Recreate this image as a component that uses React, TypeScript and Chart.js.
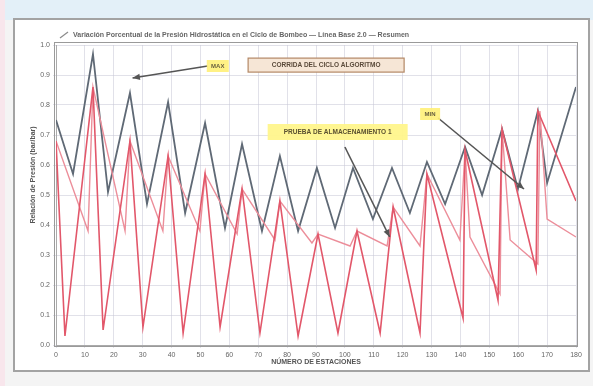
import React, { useEffect, useRef } from "react";
import { Chart, registerables } from "chart.js";

Chart.register(...registerables);

// ---- data ----
const xTickStart = 0;
const xTickEnd = 180;
const xTickStep = 10;
const yTickStart = 0;
const yTickEnd = 1;
const yTickStep = 0.1;

const greyX = [0, 5.9, 12.8, 18.0, 25.6, 31.5, 38.8, 44.7, 51.6, 58.5, 64.4, 71.3, 77.5, 83.8, 90.3, 96.6, 102.8, 109.7, 116.3, 122.5, 128.4, 134.7, 141.6, 147.5, 154.4, 159.9, 166.8, 170.0, 180];
const greyY = [0.75, 0.57, 0.97, 0.51, 0.84, 0.47, 0.81, 0.44, 0.74, 0.39, 0.67, 0.38, 0.63, 0.38, 0.59, 0.39, 0.59, 0.42, 0.59, 0.44, 0.61, 0.47, 0.66, 0.5, 0.72, 0.52, 0.78, 0.54, 0.86];

const redX = [0, 3.1, 12.8, 16.3, 25.6, 30.1, 38.8, 44.0, 51.6, 56.8, 64.4, 70.6, 77.5, 83.8, 90.7, 97.6, 104.2, 112.2, 116.7, 126.0, 128.4, 140.9, 141.6, 153.0, 154.4, 166.2, 166.8, 180];
const redY = [0.68, 0.03, 0.86, 0.05, 0.68, 0.06, 0.63, 0.04, 0.57, 0.06, 0.52, 0.04, 0.48, 0.03, 0.37, 0.04, 0.38, 0.04, 0.46, 0.04, 0.57, 0.09, 0.65, 0.15, 0.72, 0.25, 0.78, 0.48];

const pinkX = [0, 11.1, 12.8, 23.9, 25.6, 37.0, 38.8, 49.8, 51.6, 62.7, 64.4, 75.8, 77.5, 88.6, 90.7, 101.8, 104.2, 114.6, 116.7, 126.0, 128.4, 139.8, 141.6, 143.3, 153.7, 154.4, 157.2, 166.8, 167.5, 170.0, 180];
const pinkY = [0.68, 0.38, 0.86, 0.38, 0.68, 0.38, 0.63, 0.38, 0.57, 0.37, 0.52, 0.35, 0.48, 0.34, 0.37, 0.33, 0.38, 0.33, 0.46, 0.33, 0.57, 0.35, 0.65, 0.36, 0.17, 0.72, 0.35, 0.27, 0.78, 0.42, 0.36];

const chartTitle = "Variación Porcentual de la Presión Hidrostática en el Ciclo de Bombeo — Línea Base 2.0 — Resumen";
const xTitle = "NÚMERO DE ESTACIONES";
const yTitle = "Relación de Presión (bar/bar)";
const labelMax = "MAX";
const labelBox = "CORRIDA DEL CICLO ALGORITMO";
const labelTest = "PRUEBA DE ALMACENAMIENTO 1";
const labelMin = "MIN";

const FONT = "'Liberation Sans', Arial, sans-serif";

function pts(xs: number[], ys: number[]) {
  return xs.map((x, i) => ({ x, y: ys[i] }));
}

function arrow(ctx: CanvasRenderingContext2D, x1: number, y1: number, x2: number, y2: number, color: string) {
  ctx.strokeStyle = color;
  ctx.fillStyle = color;
  ctx.lineWidth = 1.6;
  ctx.beginPath();
  ctx.moveTo(x1, y1);
  ctx.lineTo(x2, y2);
  ctx.stroke();
  const a = Math.atan2(y2 - y1, x2 - x1);
  const L = 8;
  ctx.beginPath();
  ctx.moveTo(x2, y2);
  ctx.lineTo(x2 - L * Math.cos(a - 0.4), y2 - L * Math.sin(a - 0.4));
  ctx.lineTo(x2 - L * Math.cos(a + 0.4), y2 - L * Math.sin(a + 0.4));
  ctx.closePath();
  ctx.fill();
}

const annotPlugin = {
  id: "annot",
  afterDraw(chart: any) {
    const ctx: CanvasRenderingContext2D = chart.ctx;
    const xs = chart.scales.x;
    const ys = chart.scales.y;
    const px = (v: number) => xs.getPixelForValue(v);
    const py = (v: number) => ys.getPixelForValue(v);
    const area = chart.chartArea;
    ctx.save();

    // plot frame
    ctx.strokeStyle = "#9a9a9a";
    ctx.lineWidth = 1;
    ctx.strokeRect(area.left - 1.5, area.top - 2.5, area.right - area.left + 3, area.bottom - area.top + 4);

    // title
    ctx.font = `bold 7px ${FONT}`;
    ctx.fillStyle = "#666";
    ctx.textBaseline = "middle";
    ctx.textAlign = "left";
    ctx.fillText(chartTitle, 73, 35);
    ctx.strokeStyle = "#8a8a8a";
    ctx.lineWidth = 1.2;
    ctx.beginPath();
    ctx.moveTo(60, 38);
    ctx.lineTo(68, 32);
    ctx.stroke();

    // axis titles
    ctx.font = `bold 7px ${FONT}`;
    ctx.fillStyle = "#555";
    ctx.textAlign = "center";
    ctx.fillText(xTitle, 316, 362);
    ctx.save();
    ctx.translate(33, (area.top + area.bottom) / 2 - 20);
    ctx.rotate(-Math.PI / 2);
    ctx.fillText(yTitle, 0, 0);
    ctx.restore();

    // MAX label + arrow
    const maxX = px(56), maxY = py(0.93);
    arrow(ctx, maxX - 10, maxY, px(26.5), py(0.89), "#555");
    ctx.fillStyle = "rgba(255,240,120,0.9)";
    ctx.fillRect(maxX - 11, maxY - 6, 22, 12);
    ctx.fillStyle = "#6a6040";
    ctx.font = `bold 6px ${FONT}`;
    ctx.textAlign = "center";
    ctx.fillText(labelMax, maxX, maxY);

    // algorithm box
    const bx = px(93.5), by = py(0.933);
    ctx.fillStyle = "#f6e6d6";
    ctx.fillRect(bx - 78, by - 7, 156, 14);
    ctx.strokeStyle = "#b48866";
    ctx.lineWidth = 1.2;
    ctx.strokeRect(bx - 78, by - 7, 156, 14);
    ctx.fillStyle = "#5a4a3a";
    ctx.font = `bold 6.5px ${FONT}`;
    ctx.fillText(labelBox, bx, by);

    // storage test box + arrow
    const tx = px(97.5), ty = py(0.71);
    arrow(ctx, px(100), py(0.66), px(115.5), py(0.36), "#555");
    ctx.fillStyle = "rgba(255,246,140,0.95)";
    ctx.fillRect(tx - 70, ty - 8, 140, 16);
    ctx.fillStyle = "#5a5030";
    ctx.font = `bold 6.5px ${FONT}`;
    ctx.fillText(labelTest, tx, ty);

    // MIN label + arrow
    const mx = px(129.5), my = py(0.77);
    arrow(ctx, mx + 8, my + 4, px(162), py(0.52), "#555");
    ctx.fillStyle = "rgba(255,240,120,0.9)";
    ctx.fillRect(mx - 10, my - 6, 20, 12);
    ctx.fillStyle = "#6a6040";
    ctx.font = `bold 6px ${FONT}`;
    ctx.fillText(labelMin, mx, my);

    ctx.restore();
  },
};

export default function App() {
  const ref = useRef<HTMLCanvasElement>(null);
  useEffect(() => {
    document.body.style.margin = "0";
    const canvas = ref.current!;
    const chart = new Chart(canvas, {
      type: "line",
      data: {
        datasets: [
          {
            label: "Presión A",
            data: pts(redX, redY),
            borderColor: "#e2576a",
            borderWidth: 1.6,
            pointRadius: 0,
            tension: 0,
          },
          {
            label: "Presión B",
            data: pts(pinkX, pinkY),
            borderColor: "#ec8e9a",
            borderWidth: 1.4,
            pointRadius: 0,
            tension: 0,
          },
          {
            label: "Presión total",
            data: pts(greyX, greyY),
            borderColor: "#5f6975",
            borderWidth: 1.8,
            pointRadius: 0,
            tension: 0,
          },
        ],
      },
      options: {
        animation: false,
        responsive: false,
        devicePixelRatio: 1,
        parsing: true,
        layout: { padding: { left: 20, right: 17, top: 45, bottom: 17 } },
        plugins: { legend: { display: false }, tooltip: { enabled: false }, title: { display: false } },
        scales: {
          x: {
            type: "linear",
            min: xTickStart,
            max: xTickEnd,
            ticks: { stepSize: xTickStep, font: { size: 7, family: FONT }, color: "#666", maxRotation: 0, padding: 3 },
            grid: { color: "rgba(200,200,215,0.55)", tickLength: 3 },
            border: { color: "#aaa" },
            afterFit: (s: any) => { s.height = 24; },
          },
          y: {
            type: "linear",
            min: yTickStart,
            max: yTickEnd,
            ticks: { stepSize: yTickStep, font: { size: 7, family: FONT }, color: "#666", padding: 3, callback: (v: any) => Number(v).toFixed(1) },
            grid: { color: "rgba(200,200,215,0.55)", tickLength: 3 },
            border: { color: "#aaa" },
            afterFit: (s: any) => { s.width = 36; },
          },
        },
      },
      plugins: [annotPlugin],
    });
    return () => chart.destroy();
  }, []);

  return (
    <div style={{ position: "relative", width: 593, height: 386, background: "#f4f4f4", overflow: "hidden" }}>
      <div style={{ position: "absolute", left: 0, top: 0, width: 593, height: 20, background: "#e3f0f8" }} />
      <div style={{ position: "absolute", left: 0, top: 0, width: 5, height: 386, background: "#f8e6ec" }} />
      <div
        style={{
          position: "absolute",
          left: 13,
          top: 18,
          width: 573,
          height: 350,
          background: "#ffffff",
          border: "2px solid #a3a3a3",
        }}
      />
      <canvas ref={ref} width={593} height={386} style={{ position: "absolute", left: 0, top: 0 }} />
    </div>
  );
}
